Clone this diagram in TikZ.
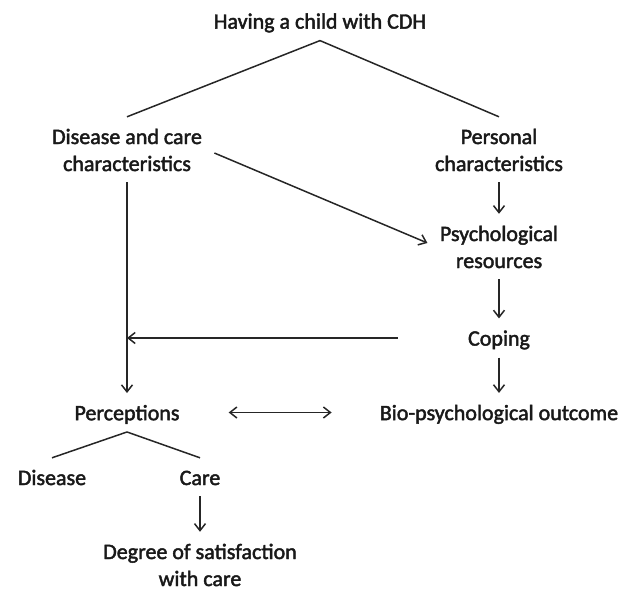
\documentclass[tikz,border=0pt]{standalone}
\usepackage{fontspec}
\setmainfont{Carlito}[UprightFeatures={FakeBold=2}]
\usetikzlibrary{arrows.meta}
\newcommand{\tstr}{\vrule height 19pt depth 3pt width 0pt}
\tikzstyle{box}=[align=center, inner xsep=4pt, inner ysep=8pt, text=black!90, font=\fontsize{22}{27}\selectfont]
\tikzstyle{link}=[draw=black!85, line width=1.5pt]

\begin{document}
\begin{tikzpicture}[x=1pt, y=-1pt, >={Straight Barb[length=7pt,width=11pt]}]
		\useasboundingbox (0,0) rectangle (635,590);
		% Draw the nodes of the model
		\node[box] (title) at (320,21) {Having a child with CDH\tstr};
		\node[box] (dis) at (127,149.5) {Disease and care\tstr\\characteristics\tstr};
		\node[box] (pers) at (499,149.5) {Personal\tstr\\characteristics\tstr};
		\node[box] (psy) at (499,246.5) {Psychological\tstr\\resources\tstr};
		\node[box] (cop) at (499,338) {Coping\tstr};
		\node[box] (per) at (127,412.5) {Perceptions\tstr};
		\node[box] (bio) at (499,412.5) {Bio-psychological outcome\tstr};
		\node[box] (dse) at (52,477) {Disease\tstr};
		\node[box] (car) at (200,477) {Care\tstr};
		\node[box] (deg) at (200,564.5) {Degree of satisfaction\tstr\\with care\tstr};
		% Branch from the top
		\draw[link] (title.south) -- (dis.north);
		\draw[link] (title.south) -- (pers.north);
		\draw[link, ->, shorten <=9pt, shorten >=9pt] (dis.east) -- (psy.west);
		% Right hand chain
		\foreach \a / \b in {pers/psy, psy/cop, cop/bio}
		\draw[link, ->] (\a) -- (\b);
		% Left hand side
		\draw[link, ->] (dis) -- (per);
		\coordinate (jn) at (dis.south |- cop.west);
		\draw[link, ->, shorten <=66pt] (cop.west) -- (jn);
		\draw[link, <->, shorten <=45pt, shorten >=44pt] (per.east) -- (bio.west);
		% Split of the perceptions
		\draw[link] (per.south) -- (dse.north);
		\draw[link] (per.south) -- (car.north);
		\draw[link, ->] (car) -- (deg);
	\end{tikzpicture}
\end{document}
